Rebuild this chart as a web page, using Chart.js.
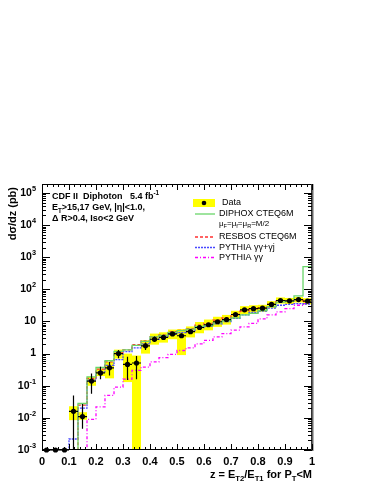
<!DOCTYPE html>
<html lang="en">
<head>
  <meta charset="UTF-8">
  <title>CDF II Diphoton dσ/dz</title>
  <script src="https://cdn.jsdelivr.net/npm/chart.js@4"></script>
  <style>
    body { margin: 0; background: #fff; }
  </style>
</head>
<body>
  <canvas id="zChart" width="374" height="484"></canvas>

  <script>
    // bin edges in z = ET2/ET1
    const zEdges = [0, 0.0333, 0.0667, 0.1, 0.1333, 0.1667, 0.2, 0.2333, 0.2667, 0.3, 0.3333,
      0.3667, 0.4, 0.4333, 0.4667, 0.5, 0.5333, 0.5667, 0.6, 0.6333, 0.6667,
      0.7, 0.7333, 0.7667, 0.8, 0.8333, 0.8667, 0.9, 0.9333, 0.9667, 1];

    // measured dσ/dz (pb), 0 = empty bin
    const dataVal  = [0, 0, 0, 0.016, 0.011, 0.14, 0.25, 0.36, 1.0, 0.46, 0.51, 1.75, 2.8, 3.2, 4.1,
      3.6, 4.8, 6.5, 7.9, 9.8, 11.5, 16.5, 23, 25, 26, 34, 45, 44, 48, 43];
    const statLow  = [0, 0, 0, 0, 0.0046, 0.056, 0.16, 0.21, 0.72, 0.15, 0.16, 1.3, 2.3, 2.7, 3.6,
      3.1, 4.3, 5.9, 7.2, 9.0, 10.6, 15.4, 21.6, 23.5, 24.5, 32, 42.5, 41.5, 45.5, 40.5];
    const statHigh = [0, 0, 0, 0.05, 0.027, 0.24, 0.39, 0.55, 1.3, 0.8, 0.85, 2.2, 3.4, 3.8, 4.7,
      4.2, 5.3, 7.1, 8.6, 10.6, 12.4, 17.6, 24.4, 26.5, 27.5, 36, 47.5, 46.5, 50.5, 45.5];
    // systematic band (yellow)
    const sysLow   = [0, 0, 0, 0.0085, 0.0087, 0.1, 0.2, 0.17, 0.7, 0.13, 0, 1.0, 1.9, 2.2, 2.8,
      0.9, 3.2, 4.3, 5.3, 6.8, 8, 12, 17, 19, 20, 26, 36, 35, 39, 34];
    const sysHigh  = [0, 0, 0, 0.023, 0.015, 0.19, 0.34, 0.55, 1.33, 1.0, 0.87, 2.6, 4.2, 4.6, 5.6,
      5.8, 7.0, 9.6, 11.5, 14, 16, 21.5, 30, 32, 33, 43, 56, 54, 58, 53];

    // predictions
    const diphox    = [0, 0, 0, 0, 0.028, 0.19, 0.37, 0.6, 1.18, 1.3, 1.8, 2.4, 3.3, 3.7, 4.6,
      5.2, 5.8, 7.0, 7.6, 9.0, 10.5, 13, 16, 18, 22, 29, 40, 42, 63, 510];
    const resbos    = [0, 0, 0, 0, 0.025, 0.17, 0.33, 0.55, 1.05, 1.3, 1.9, 2.5, 3.3, 3.8, 4.8,
      5.3, 6.0, 7.7, 8.7, 11, 13, 16.5, 21, 25, 27, 34, 43, 43, 47, 43];
    const pythiaAll = [0, 0, 0, 0.0022, 0.02, 0.15, 0.27, 0.43, 0.65, 1.15, 1.5, 2.0, 2.8, 3.2, 4.0,
      4.5, 5.2, 6.5, 7.2, 8.5, 10, 12.5, 16, 19, 21, 26, 32, 34, 36, 35];
    const pythiaGG  = [0, 0, 0, 0, 0, 0.009, 0.022, 0.05, 0.09, 0.16, 0.3, 0.38, 0.55, 0.75, 0.95,
      1.25, 1.5, 2.0, 2.6, 3.3, 4.2, 5.4, 6.8, 8.7, 12, 16, 20, 25, 32, 36];

    const xTicks = [0, 0.1, 0.2, 0.3, 0.4, 0.5, 0.6, 0.7, 0.8, 0.9, 1];
    const yDecades = [-3, -2, -1, 0, 1, 2, 3, 4, 5];

    const Y_MIN = 1e-3, Y_MAX = 1.9e5;
    const FONT = '"Liberation Sans", Arial, Helvetica, sans-serif';

    const GREEN = '#6ad66a', RED = '#ff3030', BLUE = '#4848ff', MAGENTA = '#ff00ff';
    const BLUE_DASH = [2, 1];

    function stepData(vals) {
      const pts = vals.map((v, i) => ({ x: zEdges[i], y: v > 0 ? v : 1e-5 }));
      pts.push({ x: zEdges[zEdges.length - 1], y: pts[pts.length - 1].y });
      return pts;
    }

    function centers() {
      return dataVal.map((v, i) => (zEdges[i] + zEdges[i + 1]) / 2);
    }

    // text with sub/superscripts: parts = [[text, mode], ...]
    function rich(ctx, parts, x, y, size, weight, align) {
      const ps = parts.map(p => ({ t: p[0], m: p[1] || '', s: p[1] ? size * 0.7 : size }));
      let w = 0;
      ps.forEach(p => {
        ctx.font = weight + ' ' + p.s + 'px ' + FONT;
        p.w = ctx.measureText(p.t).width;
        w += p.w;
      });
      let cx = align === 'right' ? x - w : align === 'center' ? x - w / 2 : x;
      ctx.textAlign = 'left';
      ctx.textBaseline = 'middle';
      ps.forEach(p => {
        ctx.font = weight + ' ' + p.s + 'px ' + FONT;
        const dy = p.m === 'sup' ? -size * 0.38 : p.m === 'sub' ? size * 0.32 : 0;
        ctx.fillText(p.t, cx, y + dy);
        cx += p.w;
      });
    }

    const histPlugin = {
      id: 'histPlugin',
      beforeDatasetsDraw(chart) {
        const { ctx, chartArea: a, scales: { x, y } } = chart;
        ctx.save();
        ctx.beginPath();
        ctx.rect(a.left, a.top, a.right - a.left, a.bottom - a.top);
        ctx.clip();
        ctx.fillStyle = '#ffff00';
        sysHigh.forEach((hi, i) => {
          if (hi <= 0) return;
          const x0 = x.getPixelForValue(zEdges[i]);
          const x1 = x.getPixelForValue(zEdges[i + 1]);
          const y0 = y.getPixelForValue(hi);
          const y1 = y.getPixelForValue(Math.max(sysLow[i], Y_MIN / 10));
          ctx.fillRect(x0, y0, x1 - x0, y1 - y0);
        });
        ctx.restore();
      },
      beforeDatasetDraw(chart, args) {
        if (args.index !== 0) return;
        const { ctx, scales: { x, y } } = chart;
        const cs = centers();
        ctx.save();
        ctx.strokeStyle = '#000';
        ctx.lineWidth = 1.2;
        dataVal.forEach((v, i) => {
          const cx = x.getPixelForValue(cs[i]);
          const cy = y.getPixelForValue(v > 0 ? v : Y_MIN);
          ctx.beginPath();
          ctx.moveTo(x.getPixelForValue(zEdges[i]), cy);
          ctx.lineTo(x.getPixelForValue(zEdges[i + 1]), cy);
          if (statHigh[i] > 0) {
            ctx.moveTo(cx, y.getPixelForValue(statHigh[i]));
            ctx.lineTo(cx, y.getPixelForValue(Math.max(statLow[i], Y_MIN)));
          }
          ctx.stroke();
        });
        ctx.restore();
      },
      afterDatasetsDraw(chart) {
        const { ctx, chartArea: a, scales: { x, y } } = chart;
        ctx.save();
        ctx.strokeStyle = '#000';
        ctx.fillStyle = '#000';
        ctx.lineWidth = 1;

        // frame
        ctx.strokeRect(a.left + 0.5, a.top + 0.5, a.right - a.left - 1, a.bottom - a.top - 1);
        ctx.strokeStyle = '#666';
        ctx.lineWidth = 2;
        ctx.beginPath();
        ctx.moveTo(a.right + 0.5, a.top);
        ctx.lineTo(a.right + 0.5, a.bottom + 1);
        ctx.stroke();
        ctx.strokeStyle = '#000';
        ctx.lineWidth = 1;

        // x ticks, bottom and top
        ctx.beginPath();
        for (let k = 0; k <= 50; k++) {
          const px = Math.round(x.getPixelForValue(k / 50)) + 0.5;
          const len = k % 5 === 0 ? 6 : 3;
          ctx.moveTo(px, a.bottom);
          ctx.lineTo(px, a.bottom - len);
          ctx.moveTo(px, a.top);
          ctx.lineTo(px, a.top + len);
        }
        // y ticks, left and right
        yDecades.forEach(d => {
          for (let m = 1; m <= 9; m++) {
            const v = m * Math.pow(10, d);
            if (v > Y_MAX) break;
            const py = Math.round(y.getPixelForValue(v)) + 0.5;
            const len = m === 1 ? 8 : 4;
            ctx.moveTo(a.left, py);
            ctx.lineTo(a.left + len, py);
            ctx.moveTo(a.right, py);
            ctx.lineTo(a.right - len, py);
          }
        });
        ctx.stroke();

        // x tick labels
        xTicks.forEach(t => {
          rich(ctx, [[String(t)]], x.getPixelForValue(t), 462, 11, 'bold', 'center');
        });
        // y tick labels
        yDecades.forEach(d => {
          const py = y.getPixelForValue(Math.pow(10, d));
          let parts;
          if (d === 0) parts = [['1']];
          else if (d === 1) parts = [['10']];
          else parts = [['10'], [String(d), 'sup']];
          rich(ctx, parts, 36, py, 10.5, 'bold', 'right');
        });

        // axis titles
        rich(ctx, [['z = E'], ['T2', 'sub'], ['/E'], ['T1', 'sub'], [' for P'], ['T', 'sub'], ['<M']],
          312, 475, 11, 'bold', 'right');
        ctx.save();
        ctx.translate(13, 187);
        ctx.rotate(-Math.PI / 2);
        rich(ctx, [['dσ/dz (pb)']], 0, 0, 11, 'bold', 'right');
        ctx.restore();

        // header
        rich(ctx, [['CDF II  Diphoton   5.4 fb'], ['-1', 'sup']], 52, 197, 9, 'bold', 'left');
        rich(ctx, [['E'], ['T', 'sub'], ['>15,17 GeV, |η|<1.0,']], 52, 208, 9, 'bold', 'left');
        rich(ctx, [['Δ R>0.4, Iso<2 GeV']], 52, 219, 9, 'bold', 'left');

        // legend
        ctx.fillStyle = '#ffff00';
        ctx.fillRect(193, 199, 22, 8);
        ctx.fillStyle = '#000';
        ctx.beginPath();
        ctx.arc(204, 203, 2.3, 0, Math.PI * 2);
        ctx.fill();
        rich(ctx, [['Data']], 222, 203, 9, 'normal', 'left');

        const legendLines = [
          { y: 214, color: GREEN, dash: [], label: [['DIPHOX CTEQ6M']] },
          { y: 237, color: RED, dash: [3, 2], label: [['RESBOS CTEQ6M']] },
          { y: 247.5, color: BLUE, dash: BLUE_DASH, label: [['PYTHIA γγ+γj']] },
          { y: 257.5, color: MAGENTA, dash: [3, 2, 1, 2], label: [['PYTHIA γγ']] }
        ];
        legendLines.forEach(l => {
          ctx.strokeStyle = l.color;
          ctx.lineWidth = 1.3;
          ctx.setLineDash(l.dash);
          ctx.beginPath();
          ctx.moveTo(195, l.y);
          ctx.lineTo(215, l.y);
          ctx.stroke();
          ctx.setLineDash([]);
          ctx.fillStyle = '#000';
          rich(ctx, l.label, 219, l.y, 9, 'normal', 'left');
        });
        rich(ctx, [['μ'], ['F', 'sub'], ['=μ'], ['f', 'sub'], ['=μ'], ['R', 'sub'], ['=M/2']],
          219, 224, 8, 'normal', 'left');

        ctx.restore();
      }
    };

    const lineDs = (label, vals, color, dash) => ({
      type: 'line',
      label: label,
      data: stepData(vals),
      stepped: 'before',
      borderColor: color,
      borderWidth: 1.3,
      borderDash: dash,
      pointRadius: 0,
      fill: false
    });

    new Chart(document.getElementById('zChart').getContext('2d'), {
      type: 'scatter',
      data: {
        datasets: [
          {
            type: 'scatter',
            label: 'Data',
            data: dataVal.map((v, i) => ({ x: centers()[i], y: v > 0 ? v : Y_MIN })),
            pointRadius: 2.6,
            pointBorderWidth: 0,
            pointBackgroundColor: '#000',
            pointBorderColor: '#000',
            clip: false
          },
          lineDs('DIPHOX CTEQ6M', diphox, GREEN, []),
          lineDs('RESBOS CTEQ6M', resbos, RED, [3, 2]),
          lineDs('PYTHIA γγ+γj', pythiaAll, BLUE, BLUE_DASH),
          lineDs('PYTHIA γγ', pythiaGG, MAGENTA, [3, 2, 1, 2])
        ]
      },
      options: {
        responsive: false,
        animation: false,
        devicePixelRatio: 1,
        layout: { padding: { left: 42, right: 62, top: 184, bottom: 34 } },
        plugins: { legend: { display: false }, tooltip: { enabled: false } },
        scales: {
          x: { type: 'linear', min: 0, max: 1, display: false },
          y: { type: 'logarithmic', min: Y_MIN, max: Y_MAX, display: false }
        }
      },
      plugins: [histPlugin]
    });
  </script>
</body>
</html>
